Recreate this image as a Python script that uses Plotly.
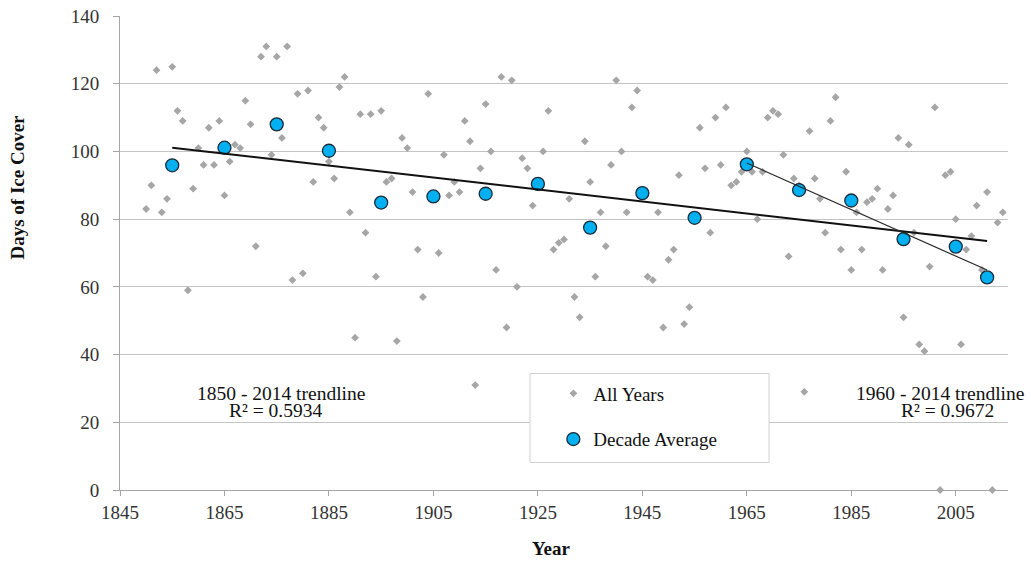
import numpy as np
import plotly.graph_objects as go

# ---- data ----
years = list(range(1850, 2015))
days = [83, 90, 124, 82, 86, 125, 112, 109, 59, 89,      # 1850s
        101, 96, 107, 96, 109, 87, 97, 102, 101, 115,    # 1860s
        108, 72, 128, 131, 99, 128, 104, 131, 62, 117,   # 1870s
        64, 118, 91, 110, 107, 97, 92, 119, 122, 82,     # 1880s
        45, 111, 76, 111, 63, 112, 91, 92, 44, 104,      # 1890s
        101, 88, 71, 57, 117, 86, 70, 99, 87, 91,        # 1900s
        88, 109, 103, 31, 95, 114, 100, 65, 122, 48,     # 1910s
        121, 60, 98, 95, 84, 90, 100, 112, 71, 73,       # 1920s
        74, 86, 57, 51, 103, 91, 63, 82, 72, 96,         # 1930s
        121, 100, 82, 113, 118, 88, 63, 62, 82, 48,      # 1940s
        68, 71, 93, 49, 54, 81, 107, 95, 76, 110,        # 1950s
        96, 113, 90, 91, 94, 100, 94, 80, 94, 110,       # 1960s
        112, 111, 99, 69, 92, 90, 29, 106, 92, 86,       # 1970s
        76, 109, 116, 71, 94, 65, 82, 71, 85, 86,        # 1980s
        89, 65, 83, 87, 104, 51, 102, 76, 43, 41,        # 1990s
        66, 113, 0, 93, 94, 80, 43, 71, 75, 84,          # 2000s
        65, 88, 0, 79, 82]                               # 2010-2014

decade_starts = list(range(1850, 2020, 10))
decade_x = [1855, 1865, 1875, 1885, 1895, 1905, 1915, 1925, 1935,
            1945, 1955, 1965, 1975, 1985, 1995, 2005, 2011]
recent_start = 1965

x_ticks = [1845, 1865, 1885, 1905, 1925, 1945, 1965, 1985, 2005]
y_ticks = [0, 20, 40, 60, 80, 100, 120, 140]

label_long = ["1850 - 2014 trendline", "R² = 0.5934"]
label_short = ["1960 - 2014 trendline", "R² = 0.9672"]

# ---- derived values ----
yr = np.array(years)
dv = np.array(days, dtype=float)
decade_avg = [dv[(yr >= s) & (yr < s + 10)].mean() for s in decade_starts]

dx = np.array(decade_x, dtype=float)
da = np.array(decade_avg)
p_long = np.polyfit(dx, da, 1)
mask = dx >= recent_start
p_short = np.polyfit(dx[mask], da[mask], 1)
xl = [dx[0], dx[-1]]
xs = [dx[mask][0], dx[mask][-1]]

FONT = "Liberation Serif"
fig = go.Figure()
fig.add_trace(go.Scatter(
    x=years, y=days, mode="markers", name="All Years", legendgroup="a",
    marker=dict(symbol="diamond", size=6, color="#a6a6a6"), cliponaxis=False))
fig.add_trace(go.Scatter(
    x=decade_x, y=decade_avg, mode="markers", name="Decade Average", legendgroup="b",
    marker=dict(symbol="circle", size=13, color="#00b0f0",
                line=dict(color="#1b2a38", width=1.3)), cliponaxis=False))
fig.add_trace(go.Scatter(
    x=xl, y=np.polyval(p_long, xl), mode="lines", showlegend=False,
    line=dict(color="#111111", width=2)))
fig.add_trace(go.Scatter(
    x=xs, y=np.polyval(p_short, xs), mode="lines", showlegend=False,
    line=dict(color="#2a2a2a", width=1.2)))

ann = []
for txt, x, y in [(label_long[0], 1875.9, 28.6), (label_long[1], 1874.8, 23.6),
                  (label_short[0], 2002.0, 28.6), (label_short[1], 2003.5, 23.6)]:
    ann.append(dict(text=txt, x=x, y=y, xref="x", yref="y", showarrow=False,
                    xanchor="center", yanchor="middle",
                    font=dict(family=FONT, size=19.5, color="#111111")))
ann.append(dict(text="<b>Days of Ice Cover</b>", x=-0.115, y=0.64, xref="paper", yref="paper",
                textangle=-90, showarrow=False, xanchor="center", yanchor="middle",
                font=dict(family=FONT, size=19, color="#111111")))
ann.append(dict(text="<b>Year</b>", x=0.486, y=-0.1235, xref="paper", yref="paper",
                showarrow=False, xanchor="center", yanchor="middle",
                font=dict(family=FONT, size=19, color="#111111")))

fig.update_layout(
    width=1031, height=561,
    margin=dict(l=120, r=23, t=16, b=71, autoexpand=False),
    plot_bgcolor="white", paper_bgcolor="white",
    font=dict(family=FONT, size=19, color="#333333"),
    annotations=ann,
    shapes=[dict(type="rect", xref="paper", yref="paper",
                 x0=0.4617, x1=0.7309, y0=0.058, y1=0.2459,
                 line=dict(color="#d0d0d0", width=1), fillcolor="white", layer="above")],
    legend=dict(x=0.488, y=0.2437, xanchor="left", yanchor="top",
                bgcolor="rgba(0,0,0,0)", borderwidth=0,
                font=dict(family=FONT, size=19, color="#111111"),
                traceorder="grouped", tracegroupgap=18),
    xaxis=dict(range=[1845, 2015], tickvals=x_ticks, showgrid=False, zeroline=False,
               showline=True, linecolor="#a6a6a6", linewidth=1,
               ticks="outside", ticklen=5, tickcolor="#a6a6a6",
               tickfont=dict(family=FONT, size=19, color="#333333"),
               ticklabelstandoff=0, automargin=False),
    yaxis=dict(range=[0, 140], tickvals=y_ticks, showgrid=True, gridcolor="#c4c4c4",
               gridwidth=1, zeroline=False, showline=True, linecolor="#a6a6a6",
               linewidth=1, ticks="outside", ticklen=6, tickcolor="#a6a6a6",
               tickfont=dict(family=FONT, size=19, color="#333333"),
               ticklabelstandoff=10, automargin=False),
)

fig.write_html("out.html", config={"displayModeBar": False},
               post_script="document.body.style.margin='0';document.body.style.overflow='hidden';")
